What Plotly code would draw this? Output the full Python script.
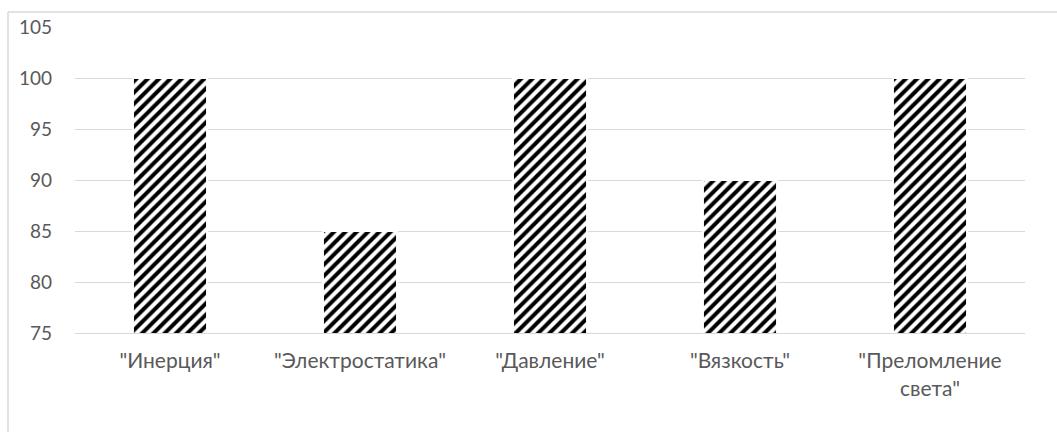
import plotly.graph_objects as go

categories = ['"Инерция"', '"Электростатика"', '"Давление"', '"Вязкость"', '"Преломление<br>света"']
values = [100, 85, 100, 90, 100]
y_ticks = [75, 80, 85, 90, 95, 100, 105]

W, H = 1057, 432
L, R, T, B = 75, 32, 27, 99
pw, ph = W - L - R, H - T - B

fig = go.Figure()
fig.add_trace(go.Bar(
    x=categories, y=values, width=0.39,
    marker=dict(
        color="white",
        line=dict(color="white", width=2),
        pattern=dict(shape="/", fgcolor="black", bgcolor="white", size=8, solidity=0.5, fillmode="replace"),
    ),
    hoverinfo="x+y",
))

font_family = "Lato, 'Open Sans', sans-serif"
fig.update_layout(
    width=W, height=H,
    margin=dict(l=L, r=R, t=T, b=B),
    paper_bgcolor="white", plot_bgcolor="white",
    showlegend=False,
    font=dict(family=font_family, color="#595959", size=19),
    xaxis=dict(
        showgrid=False, showline=True, linecolor="#d9d9d9", linewidth=1,
        ticks="", tickfont=dict(size=21, color="#595959"),
        ticklabelstandoff=9,
    ),
    yaxis=dict(
        range=[75, 105], tickvals=y_ticks, showgrid=True, gridcolor="#d9d9d9", gridwidth=1,
        zeroline=False, showline=False, ticks="",
        tickfont=dict(size=19, color="#595959"),
        ticklabelstandoff=22,
    ),
)

# outer chart border (left and top edges visible)
x_left = (8 - L) / pw
y_top = 1 + (T - 12) / ph
fig.add_shape(type="line", xref="paper", yref="paper", x0=x_left, x1=x_left, y0=-1, y1=y_top,
              line=dict(color="#d9d9d9", width=1.5))
fig.add_shape(type="line", xref="paper", yref="paper", x0=x_left, x1=1.2, y0=y_top, y1=y_top,
              line=dict(color="#d9d9d9", width=1.5))

fig.write_html("out.html")
